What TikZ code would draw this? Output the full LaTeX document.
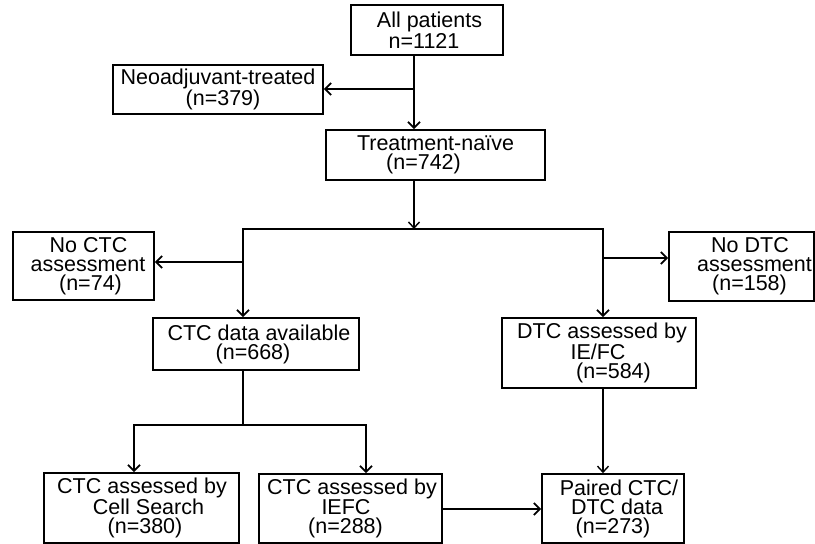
\documentclass[tikz,border=0pt]{standalone}
\usepackage{fontspec}
\setmainfont{Liberation Sans}
\usetikzlibrary{arrows.meta}
\newcommand\shiftline[2]{\makebox[0pt]{\hspace*{#1}#2}}
\begin{document}
\begin{tikzpicture}[x=1pt,y=-1pt,
 box/.style={draw, line width=1.6pt, inner sep=0pt, align=center, font=\fontsize{21.5}{19}\selectfont},
 arr/.style={line width=1.9pt, -{Straight Barb[length=6pt,width=12pt,line width=1.9pt]}},
 thinarr/.style={line width=1.1pt, -{Straight Barb[length=6pt,width=11pt,line width=1.4pt]}},
 ln/.style={line width=1.9pt, line cap=rect}]
\useasboundingbox (0,0) rectangle (815,544);

\node[box, minimum width=152pt, minimum height=50pt] (all) at (427,30)
  {\shiftline{5pt}{All patients}\\\shiftline{-6pt}{n=1121}};
\node[box, minimum width=210pt, minimum height=49pt] (neo) at (218,89.5)
  {\shiftline{0pt}{Neoadjuvant-treated}\\\shiftline{10pt}{(n=379)}};
\node[box, minimum width=219pt, minimum height=50pt] (naive) at (435.5,155)
  {\shiftline{0pt}{Treatment-naïve}\\\shiftline{-24pt}{(n=742)}};
\node[box, minimum width=141pt, minimum height=68pt] (noctc) at (83.5,266)
  {\shiftline{10pt}{No CTC}\\\shiftline{9pt}{assessment}\\\shiftline{14pt}{(n=74)}};
\node[box, minimum width=206pt, minimum height=52pt] (ctc) at (256,344)
  {\shiftline{6pt}{CTC data available}\\\shiftline{-6pt}{(n=668)}};
\node[box, minimum width=145pt, minimum height=69pt] (nodtc) at (741.5,266.5)
  {\shiftline{17pt}{No DTC}\\\shiftline{26pt}{assessment}\\\shiftline{16pt}{(n=158)}};
\node[box, minimum width=194pt, minimum height=70pt] (dtc) at (599,353)
  {\shiftline{6pt}{DTC assessed by}\\\shiftline{-2pt}{IE/FC}\\\shiftline{29pt}{(n=584)}};
\node[box, minimum width=195pt, minimum height=70pt] (cs) at (141.5,508)
  {\shiftline{1pt}{CTC assessed by}\\\shiftline{14pt}{Cell Search}\\\shiftline{7pt}{(n=380)}};
\node[box, minimum width=183pt, minimum height=69pt] (iefc) at (350.5,508.5)
  {\shiftline{3pt}{CTC assessed by}\\\shiftline{-9pt}{IEFC}\\\shiftline{-10pt}{(n=288)}};
\node[box, minimum width=142pt, minimum height=69pt] (paired) at (613,508.5)
  {\shiftline{12pt}{Paired CTC/}\\\shiftline{8pt}{DTC data}\\\shiftline{0pt}{(n=273)}};

\coordinate (j1) at (414,89);
\draw[arr] (all.south -| j1) -- (naive.north -| j1);
\draw[arr] (j1) -- (neo.east |- j1);
\coordinate (j2) at (414,229);
\draw[thinarr] (naive.south -| j2) -- (j2);
\coordinate (jl) at (243,229);
\coordinate (jr) at (603,229);
\draw[ln] (jl) -- (jr);
\draw[arr] (jl) -- (ctc.north -| jl);
\coordinate (j3) at (243,262);
\draw[arr] (j3) -- (noctc.east |- j3);
\draw[arr] (jr) -- (dtc.north -| jr);
\coordinate (j4) at (603,258);
\draw[arr] (j4) -- (nodtc.west |- j4);
\coordinate (j5) at (243,425);
\coordinate (j5l) at (134,425);
\coordinate (j5r) at (366,425);
\draw[ln] (ctc.south -| j5) -- (j5);
\draw[ln] (j5l) -- (j5r);
\draw[arr] (j5l) -- (cs.north -| j5l);
\draw[arr] (j5r) -- (iefc.north -| j5r);
\draw[thinarr] (dtc.south -| jr) -- (paired.north -| jr);
\coordinate (j6) at (0,509);
\draw[arr] (iefc.east |- j6) -- (paired.west |- j6);
\end{tikzpicture}
\end{document}
